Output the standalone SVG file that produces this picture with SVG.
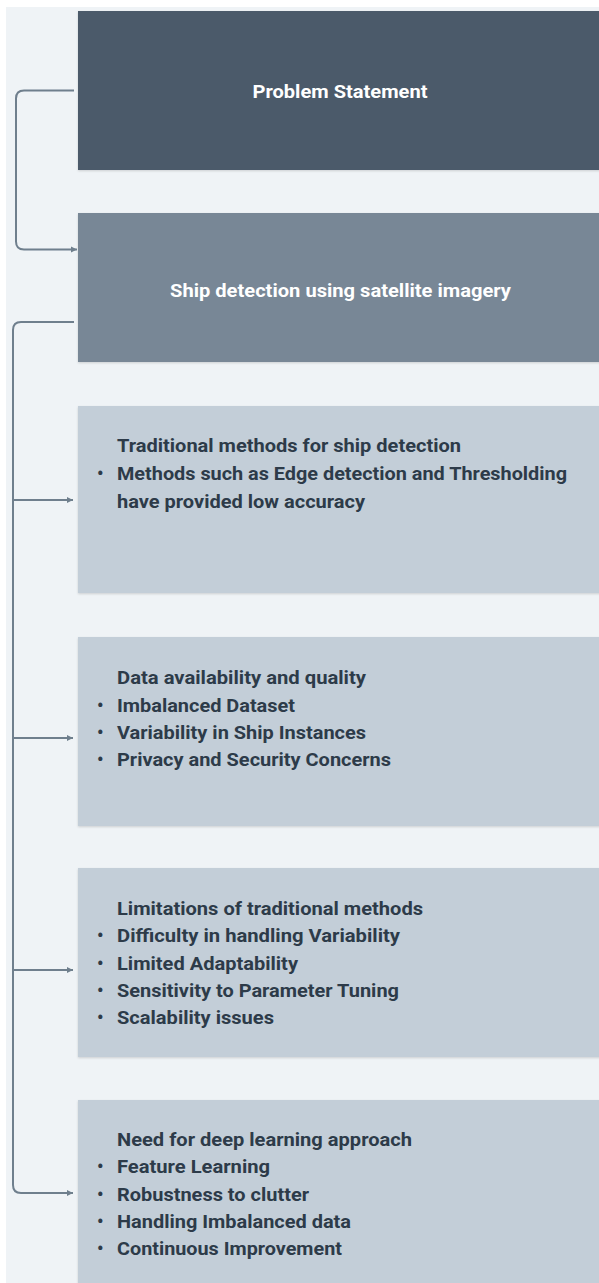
<svg xmlns="http://www.w3.org/2000/svg" width="599" height="1283" viewBox="0 0 599 1283">
<style>
.bg{fill:#eff3f6}
.dark{fill:#4b5a6a}
.mid{fill:#788796}
.light{fill:#c3ced8}
.title{font-family:Roboto,"Liberation Sans",sans-serif;font-weight:700;font-size:18px;fill:#ffffff}
.body{font-family:Roboto,"Liberation Sans",sans-serif;font-weight:700;font-size:18px;fill:#2d3b49}
.conn{fill:none;stroke:#6f7f8d;stroke-width:2}
</style>
<defs>
<filter id="sh" x="-5%" y="-5%" width="110%" height="115%">
<feDropShadow dx="0" dy="1" stdDeviation="0.8" flood-color="#000" flood-opacity="0.15"/>
</filter>
<marker id="arr" markerUnits="userSpaceOnUse" markerWidth="8" markerHeight="8" viewBox="0 0 8 8" refX="6" refY="4" orient="auto">
<path d="M0,1 L6,4 L0,7 Z" fill="#6f7f8d"/>
</marker>
</defs>
<rect x="0" y="0" width="599" height="1283" fill="#ffffff"/>
<rect class="bg" x="6" y="7" width="593" height="1276"/>

<g id="connectors">
<path class="conn" d="M74,90.5 H24 Q16,90.5 16,98.5 V241.5 Q16,249.5 24,249.5 H77" marker-end="url(#arr)"/>
<path class="conn" d="M74,322 H21 Q13,322 13,330 V1185 Q13,1193 21,1193 H73" marker-end="url(#arr)"/>
<path class="conn" d="M13,500 H73" marker-end="url(#arr)"/>
<path class="conn" d="M13,738 H73" marker-end="url(#arr)"/>
<path class="conn" d="M13,970 H73" marker-end="url(#arr)"/>
</g>

<g id="node-problem">
<rect class="dark" x="78" y="11" width="530" height="159" filter="url(#sh)"/>
<text class="title" x="340" y="98" text-anchor="middle" textLength="175" lengthAdjust="spacingAndGlyphs">Problem Statement</text>
</g>

<g id="node-ship">
<rect class="mid" x="78" y="213" width="530" height="149" filter="url(#sh)"/>
<text class="title" x="340.5" y="296.5" text-anchor="middle" textLength="341" lengthAdjust="spacingAndGlyphs">Ship detection using satellite imagery</text>
</g>

<g id="node-traditional">
<rect class="light" x="78" y="406" width="530" height="187" filter="url(#sh)"/>
<text class="body" x="117" y="452" textLength="344" lengthAdjust="spacingAndGlyphs">Traditional methods for ship detection</text>
<text class="body" x="97" y="480">•</text>
<text class="body" x="117" y="480" textLength="450" lengthAdjust="spacingAndGlyphs">Methods such as Edge detection and Thresholding</text>
<text class="body" x="117" y="508" textLength="248" lengthAdjust="spacingAndGlyphs">have provided low accuracy</text>
</g>

<g id="node-data">
<rect class="light" x="78" y="637" width="530" height="189" filter="url(#sh)"/>
<text class="body" x="117" y="684" textLength="249" lengthAdjust="spacingAndGlyphs">Data availability and quality</text>
<text class="body" x="97" y="711.5">•</text>
<text class="body" x="117" y="711.5" textLength="178" lengthAdjust="spacingAndGlyphs">Imbalanced Dataset</text>
<text class="body" x="97" y="739">•</text>
<text class="body" x="117" y="739" textLength="249" lengthAdjust="spacingAndGlyphs">Variability in Ship Instances</text>
<text class="body" x="97" y="766">•</text>
<text class="body" x="117" y="766" textLength="274" lengthAdjust="spacingAndGlyphs">Privacy and Security Concerns</text>
</g>

<g id="node-limitations">
<rect class="light" x="78" y="868" width="530" height="189" filter="url(#sh)"/>
<text class="body" x="117" y="915" textLength="306" lengthAdjust="spacingAndGlyphs">Limitations of traditional methods</text>
<text class="body" x="97" y="942">•</text>
<text class="body" x="117" y="942" textLength="283" lengthAdjust="spacingAndGlyphs">Difficulty in handling Variability</text>
<text class="body" x="97" y="970">•</text>
<text class="body" x="117" y="970" textLength="181" lengthAdjust="spacingAndGlyphs">Limited Adaptability</text>
<text class="body" x="97" y="997">•</text>
<text class="body" x="117" y="997" textLength="282" lengthAdjust="spacingAndGlyphs">Sensitivity to Parameter Tuning</text>
<text class="body" x="97" y="1024">•</text>
<text class="body" x="117" y="1024" textLength="157" lengthAdjust="spacingAndGlyphs">Scalability issues</text>
</g>

<g id="node-deep">
<rect class="light" x="78" y="1100" width="530" height="200" filter="url(#sh)"/>
<text class="body" x="117" y="1146" textLength="295" lengthAdjust="spacingAndGlyphs">Need for deep learning approach</text>
<text class="body" x="97" y="1173">•</text>
<text class="body" x="117" y="1173" textLength="153" lengthAdjust="spacingAndGlyphs">Feature Learning</text>
<text class="body" x="97" y="1201">•</text>
<text class="body" x="117" y="1201" textLength="192" lengthAdjust="spacingAndGlyphs">Robustness to clutter</text>
<text class="body" x="97" y="1228">•</text>
<text class="body" x="117" y="1228" textLength="234" lengthAdjust="spacingAndGlyphs">Handling Imbalanced data</text>
<text class="body" x="97" y="1255">•</text>
<text class="body" x="117" y="1255" textLength="225" lengthAdjust="spacingAndGlyphs">Continuous Improvement</text>
</g>
</svg>
